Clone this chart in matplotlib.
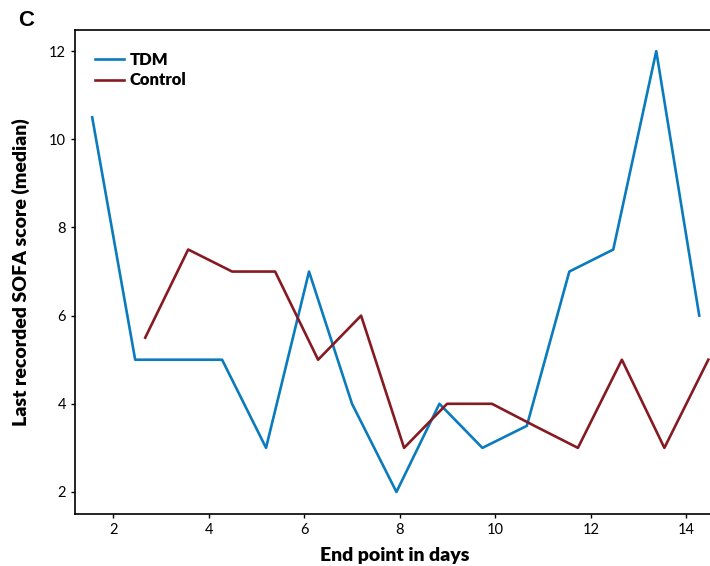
import matplotlib
matplotlib.use("Agg")
import matplotlib.pyplot as plt

# end point (days) and median last SOFA score
tdm_days = [1.56, 2.46, 3.36, 4.28, 5.20, 6.10, 7.00, 7.93, 8.83, 9.73, 10.66, 11.55, 12.47, 13.37, 14.27]
tdm_sofa = [10.5, 5, 5, 5, 3, 7, 4, 2, 4, 3, 3.5, 7, 7.5, 12, 6]

control_days = [2.67, 3.57, 4.49, 5.39, 6.29, 7.19, 8.09, 8.99, 9.93, 10.82, 11.73, 12.65, 13.54, 14.46]
control_sofa = [5.5, 7.5, 7, 7, 5, 6, 3, 4, 4, 3.5, 3, 5, 3, 5]

x_ticks = [2, 4, 6, 8, 10, 12, 14]
y_ticks = [2, 4, 6, 8, 10, 12]

BLUE = "#0a7bbd"
RED = "#861a22"

plt.rcParams['font.family'] = ['Lato', 'DejaVu Sans']

fig = plt.figure(figsize=(7.1, 5.66), dpi=100)
W, H = 710, 566
ax = fig.add_axes([75 / W, (H - 514) / H, (715 - 75) / W, (514 - 30) / H])

ax.plot(tdm_days, tdm_sofa, color=BLUE, lw=1.9, label="TDM")
ax.plot(control_days, control_sofa, color=RED, lw=1.9, label="Control")

ax.set_xlim(1.2, 14.6)
ax.set_ylim(1.5, 12.48)
ax.set_xticks(x_ticks)
ax.set_yticks(y_ticks)
ax.tick_params(labelsize=10.5, direction="out", length=3, width=1)
for s in ax.spines.values():
    s.set_linewidth(1.2)
ax.spines['right'].set_visible(False)

ax.set_xlabel("End point in days", fontsize=14, fontweight="heavy", labelpad=7)
ax.set_ylabel("Last recorded SOFA score (median)", fontsize=14, fontweight="heavy", labelpad=14)

leg = ax.legend(loc="upper left", frameon=False, prop={'weight': 'heavy', 'size': 12},
                handlelength=1.75, handletextpad=0.3, labelspacing=0.25,
                bbox_to_anchor=(0.008, 0.985), borderaxespad=0.5)

fig.text(18 / W, 1 - 20 / H, "C", fontsize=16, fontweight="bold", va="center", ha="left",
         family="Liberation Sans")

fig.savefig("out.png", dpi=100)
